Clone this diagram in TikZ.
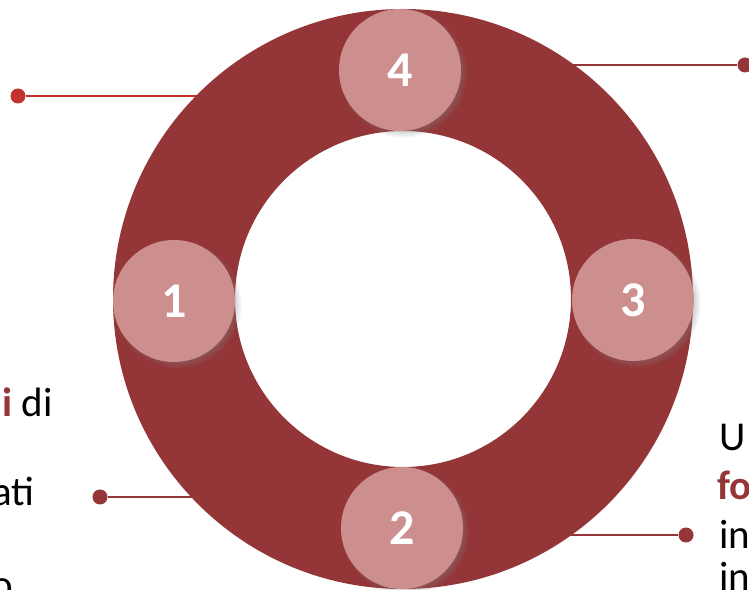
\documentclass[tikz,border=0pt]{standalone}
\usepackage{fontspec}
\setmainfont{Carlito}
\usetikzlibrary{calc,positioning,shadows}
\definecolor{ringred}{HTML}{943537}
\definecolor{pinkfill}{HTML}{CD8F8E}
\definecolor{leadred}{HTML}{C3322B}
\tikzset{
  numdisc/.style={circle, fill=pinkfill, minimum size=122pt, inner sep=0pt,
    text=white, font=\fontsize{50}{50}\selectfont\bfseries,
    circular drop shadow={shadow xshift=3pt, shadow yshift=-3pt,
      shadow scale=1.06, opacity=.45}},
  enddot/.style={circle, fill=#1, minimum size=15pt, inner sep=0pt},
  lead/.style={draw=#1, line width=2.5pt},
  txt/.style={font=\fontsize{41}{48}\selectfont, inner sep=0pt},
}
\begin{document}
\begin{tikzpicture}[x=1pt,y=1pt]
  \useasboundingbox (0,0) rectangle (749,589);
  \clip (0,0) rectangle (749,589);
  \coordinate (o) at (403,290);
  %end dots of the leads
  \node [enddot=leadred] (d1) at (18,493) {};
  \node [enddot=ringred] (d2) at (745,524) {};
  \node [enddot=ringred] (d3) at (100,92) {};
  \node [enddot=ringred] (d4) at (686,54) {};
  %points on the ring where the leads stop
  \coordinate (e1) at (205,493);
  \coordinate (e2) at (560,524);
  \coordinate (e3) at (205,92);
  \coordinate (e4) at (565,54);
  \draw [lead=leadred] (d1) -- (e1);
  \draw [lead=ringred] (e2) -- (d2);
  \draw [lead=ringred] (d3) -- (e3);
  \draw [lead=ringred] (e4) -- (d4);
  %the ring
  \fill [ringred, even odd rule] (o) circle (290) (o) circle (168);
  %numbered discs
  \node [numdisc] (n4) at ($(o)+(-3,229)$) {4};
  \node [numdisc] (n1) at ($(o)+(-229,-2)$) {1};
  \node [numdisc] (n3) at ($(o)+(230,-1)$) {3};
  \node [numdisc] (n2) at ($(o)+(-1,-229)$) {2};
  %texts (cut by the border)
  \node [txt, anchor=base east] (l1) at (53,172) {\textcolor{ringred}{\bfseries i} di};
  \node [txt, anchor=base east] (l2) at (35,83) {ati};
  \node [txt, anchor=base east] (l3) at (13,-9) {o};
  \node [txt, anchor=base west] (r1) at (719,138) {U};
  \node [txt, anchor=base west] (r2) at (717,89) {\textcolor{ringred}{\bfseries fo}};
  \node [txt, anchor=base west] (r3) at (719,41) {in};
  \node [txt, anchor=base west] (r4) at (719,-1) {in};
\end{tikzpicture}
\end{document}
